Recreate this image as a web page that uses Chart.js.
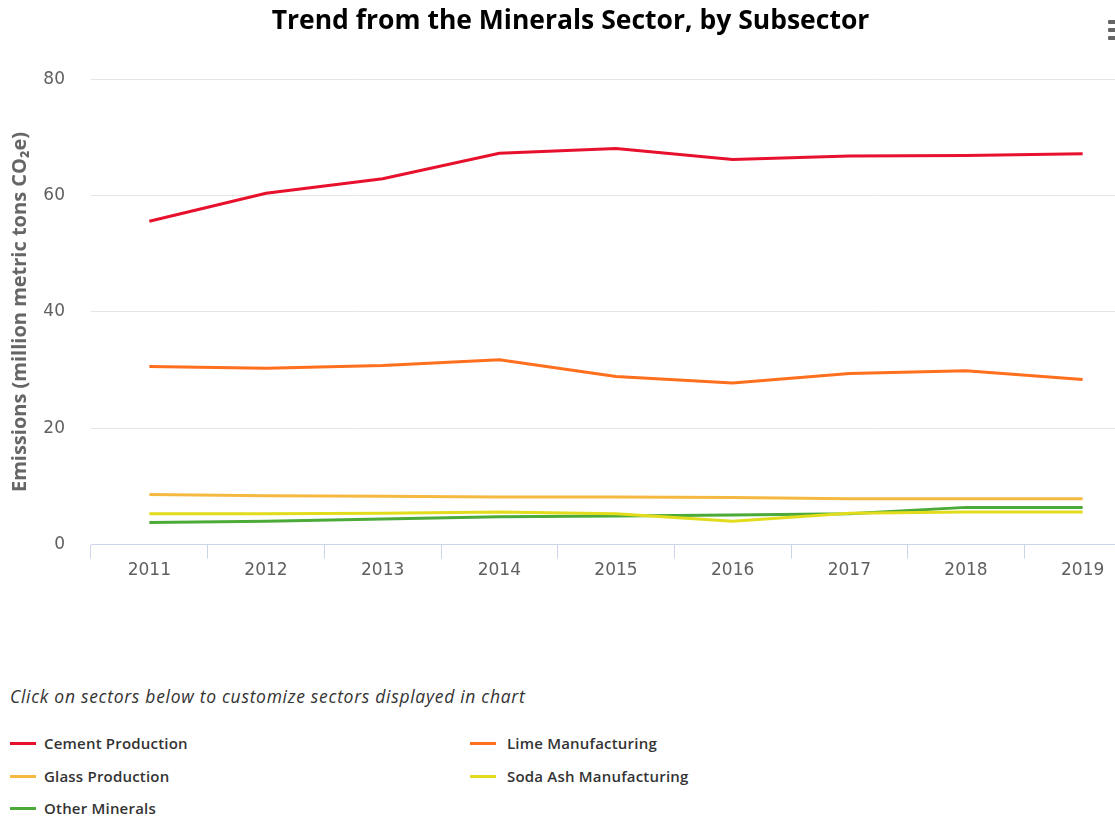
<!DOCTYPE html>
<html>
<head>
<meta charset="utf-8">
<script src="https://cdn.jsdelivr.net/npm/chart.js@4/dist/chart.umd.min.js"></script>
<style>
  html, body { margin: 0; padding: 0; overflow: hidden; background: #fff; width: 1115px; height: 818px; }
  #wrap { position: absolute; left: 0; top: 0; width: 1141px; height: 600px; }
  #menu { position: absolute; left: 1108px; top: 20px; width: 14px; }
  #menu div { height: 4px; background: #666; margin-bottom: 4px; border-radius: 1px; }
  #note { position: absolute; left: 10px; top: 684px; font: italic 17.5px "Open Sans", sans-serif; letter-spacing: 0.7px; color: #333; }
  #legend { position: absolute; left: 10px; top: 730px; width: 1000px; }
  .item { position: absolute; font: 600 15px "Open Sans", sans-serif; letter-spacing: 0.2px; color: #333; white-space: nowrap; line-height: 26px; }
  .sym { position: absolute; left: 0; top: 12px; width: 26px; height: 3px; }
  .lbl { position: absolute; left: 34px; top: 0; }
</style>
</head>
<body>
<div id="wrap"><canvas id="c"></canvas></div>
<div id="menu"><div></div><div></div><div></div></div>
<div id="note">Click on sectors below to customize sectors displayed in chart</div>
<div id="legend"></div>
<script>
const years = ['2011','2012','2013','2014','2015','2016','2017','2018','2019'];
const seriesNames = ['Cement Production','Lime Manufacturing','Glass Production','Soda Ash Manufacturing','Other Minerals'];
const cement  = [55.6, 60.4, 62.9, 67.3, 68.1, 66.2, 66.8, 66.9, 67.2];
const lime    = [30.6, 30.3, 30.8, 31.8, 28.9, 27.8, 29.4, 29.9, 28.4];
const glass   = [8.6, 8.4, 8.3, 8.2, 8.2, 8.1, 7.9, 7.9, 7.9];
const sodaAsh = [5.3, 5.3, 5.4, 5.6, 5.3, 4.0, 5.4, 5.6, 5.6];
const other   = [3.8, 4.0, 4.4, 4.8, 4.9, 5.1, 5.3, 6.4, 6.4];
const yTicks  = [0, 20, 40, 60, 80];
const colors  = ['#e8112d', '#ff6f1e', '#f5b942', '#e2dc1c', '#4cab38'];

const values = [cement, lime, glass, sodaAsh, other];
const datasets = seriesNames.map((n, i) => ({
  label: n, data: values[i], borderColor: colors[i], backgroundColor: colors[i],
  borderWidth: 3, pointRadius: 0, pointHoverRadius: 0, tension: 0, fill: false
}));

new Chart(document.getElementById('c'), {
  type: 'line',
  data: { labels: years, datasets },
  options: {
    responsive: true, maintainAspectRatio: false, animation: false,
    layout: { padding: { left: 0, right: 0, top: 0, bottom: 17 } },
    plugins: {
      legend: { display: false },
      tooltip: { enabled: false },
      title: {
        display: true, text: 'Trend from the Minerals Sector, by Subsector',
        color: '#000', font: { family: '"Open Sans", sans-serif', size: 26.5, weight: 'bold' },
        padding: { top: 6, bottom: 41.5 }
      }
    },
    scales: {
      x: {
        offset: true,
        grid: { offset: true, drawOnChartArea: false, drawTicks: true, tickLength: 14, color: '#ccd6eb' },
        border: { color: '#ccd6eb', width: 1 },
        ticks: { color: '#606060', padding: 2, font: { family: '"DejaVu Sans", sans-serif', size: 17 }, maxRotation: 0 }
      },
      y: {
        min: 0, max: 80,
        afterBuildTicks: s => { s.ticks = yTicks.map(v => ({ value: v })); },
        afterFit: s => { s.width = 91; },
        grid: { color: '#e6e6e6', drawTicks: false },
        border: { display: false },
        ticks: { color: '#606060', padding: 26, font: { family: '"DejaVu Sans", sans-serif', size: 17 } },
        title: {
          display: true, text: 'Emissions (million metric tons CO₂e)',
          color: '#666', font: { family: '"Open Sans", sans-serif', size: 20, weight: 'bold' },
          padding: { top: 8, bottom: 0 }
        }
      }
    }
  }
});

const leg = document.getElementById('legend');
seriesNames.forEach((n, i) => {
  const it = document.createElement('div');
  it.className = 'item';
  it.style.left = (i % 2 === 0 ? 0 : 460) + 'px';
  it.style.top = (Math.floor(i / 2) * 32.7) + 'px';
  it.innerHTML = '<div class="sym" style="background:' + colors[i] + '"></div><span class="lbl"></span>';
  it.querySelector('.lbl').textContent = n;
  if (i % 2 === 1) it.querySelector('.lbl').style.left = '37px';
  leg.appendChild(it);
});
</script>
</body>
</html>
